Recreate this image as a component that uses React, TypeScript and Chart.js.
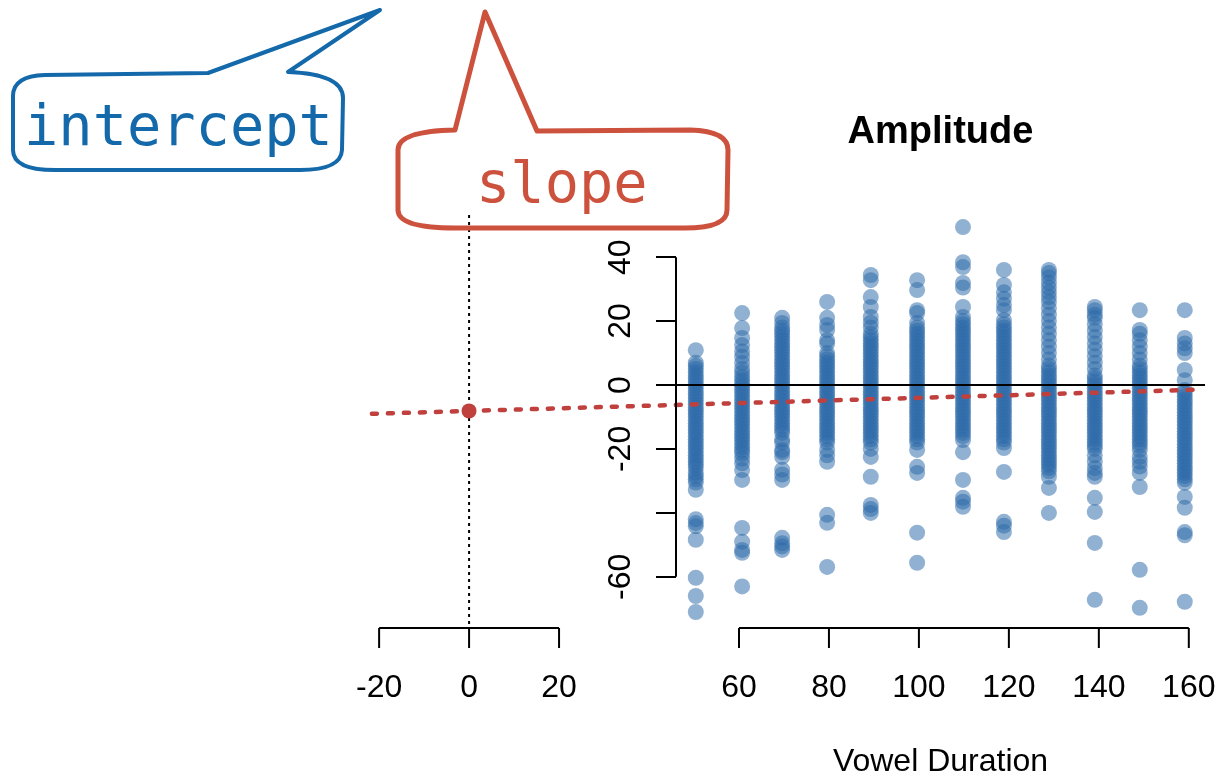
import React, { useEffect, useRef } from 'react';
import { Chart, registerables } from 'chart.js';

Chart.register(...registerables);

// ---------- data ----------
const xCols = [50.4, 60.7, 69.6, 79.6, 89.3, 99.6, 109.8, 118.9, 128.9, 139.1, 149.1, 159.1];

const col50 = [10.9, 7, 6, 5, 4, 3, 2, 1, 0, -1, -2, -3, -4, -5, -6, -7, -8, -9, -10, -11, -12, -13, -14, -15, -16, -17, -18, -19, -20, -21, -22, -23, -24, -25, -26, -27.5, -28.5, -29.5, -30.5, -32.8, -42, -43.2, -44.2, -48.4, -60.3, -66, -71];
const col60 = [22.5, 17.8, 14.7, 12.5, 10.5, 8.8, 6.9, 5, 3.8, 2.5, 1.5, 0.5, -0.5, -1.5, -2.5, -3.5, -4.5, -5.5, -6.5, -7.5, -8.5, -9.5, -10.5, -11.5, -12.5, -13.5, -14.5, -15.5, -16.5, -17.5, -18.5, -19.5, -20.5, -21.5, -23, -24.5, -26.6, -29.7, -44.7, -49, -51.6, -52.5, -63];
const col70 = [21, 19.4, 18, 17, 16, 15, 14, 13, 12, 11, 10, 9, 8, 7, 6, 5, 4, 3, 2, 1, 0, -1, -2, -3, -4, -5, -6, -7, -8, -9, -10, -11, -12, -13, -14, -15, -17, -18, -20.3, -21, -22.5, -26.5, -28, -29.7, -47.8, -49.5, -50.5, -51.6];
const col80 = [26, 21, 18.8, 17.2, 14, 13, 10, 9, 8, 7, 6, 5, 4, 3, 2, 1, 0, -1, -2, -3, -4, -5, -6, -7, -8, -9, -10, -11, -12, -13, -14, -15, -16, -17, -18, -20.3, -22, -24, -40.6, -43.1, -56.9];
const col90 = [34.4, 32.8, 27.5, 24.4, 21.3, 19.5, 18, 16, 15, 14, 13, 12, 11, 10, 9, 8, 7, 6, 5, 4, 3, 2, 1, 0, -1, -2, -3, -4, -5, -6, -7, -8, -9, -10, -11, -12, -13, -14, -15, -16, -17, -18, -20, -22.5, -28.7, -37.5, -38.8, -40];
const col100 = [32.8, 29.7, 23.4, 22.5, 19.4, 18, 17, 16, 15, 14, 13, 12, 11, 10, 9, 8, 7, 6, 5, 4, 3, 2, 1, 0, -1, -2, -3, -4, -5, -6, -7, -8, -9, -10, -11, -12, -13, -14, -15, -16, -17, -18, -20.3, -25.6, -27.5, -46.2, -55.6];
const col110 = [49.4, 38.4, 36.9, 31.9, 30.5, 24.4, 21.3, 20, 19, 18, 17, 16, 15, 14, 13, 12, 11, 10, 9, 8, 7, 6, 5, 4, 3, 2, 1, 0, -1, -2, -3, -4, -5, -6, -7, -8, -9, -10, -11, -12, -13, -14, -15, -16, -17.2, -21, -29.7, -35.3, -36.5, -38.1];
const col120 = [36, 31.3, 29, 27, 25, 23.4, 20.3, 19, 18, 17, 16, 15, 14, 13, 12, 11, 10, 9, 8, 7, 6, 5, 4, 3, 2, 1, 0, -1, -2, -3, -4, -5, -6, -7, -8, -9, -10, -11, -12, -13, -14, -15, -16, -17, -18, -19.7, -27.2, -42.8, -44, -46];
const col130 = [36, 35, 33.7, 32, 30.5, 29, 27.5, 26, 24, 22, 20, 18, 16, 14, 12, 10, 8, 6, 5, 4, 3, 2, 1, 0, -1, -2, -3, -4, -5, -6, -7, -8, -9, -10, -11, -12, -13, -14, -15, -16, -17, -18, -19, -20, -21, -22, -23, -24, -25, -26, -27, -28.7, -32.2, -40];
const col140 = [24.4, 23.4, 22, 21, 19, 17, 15, 13, 11, 9, 7, 5, 3, 2, 1, 0, -1, -2, -3, -4, -5, -6, -7, -8, -9, -10, -11, -12, -13, -14, -15, -16, -17, -18, -19, -20, -22, -24, -26, -27.5, -28.7, -35.3, -39.7, -49.4, -67.2];
const col150 = [23.4, 17.2, 16, 14, 12, 10, 8, 6, 5, 4, 3, 2, 1, 0, -1, -2, -3, -4, -5, -6, -7, -8, -9, -10, -11, -12, -13, -14, -15, -16, -17, -18, -19, -20.3, -22.5, -24, -25.5, -27.5, -31.9, -57.8, -69.7];
const col160 = [23.4, 14.7, 13, 11.5, 10, 4.7, 1.5, -1.6, -2.5, -3.5, -4.5, -5.5, -6.5, -7.5, -8.5, -9.5, -10.5, -11.5, -12.5, -13.5, -14.5, -15.5, -16.5, -17.5, -18.5, -19.5, -20.5, -21.5, -22.5, -23.5, -24.5, -25.5, -26.5, -27.5, -28.5, -29.5, -30.6, -35, -38.4, -46, -47, -67.8];
const amplitudeCols = [col50, col60, col70, col80, col90, col100, col110, col120, col130, col140, col150, col160];

// regression line, intercept point and reference lines
const fitLineX = [-21.6, 161.3];
const fitLineY = [-9.0, -1.5];
const interceptX = [0];
const interceptY = [-8.1];
const zeroRefX = [46.0, 163.6];
const zeroRefY = [0, 0];
const vRefX = [0, 0];
const vRefY = [53.2, -76.0];

// axes
const xRange = [46.0, 163.6];
const yRange = [-76.01, 57.87];
const xTicks = [60, 80, 100, 120, 140, 160, -20, 0, 20];
const xTickLabels = ['60', '80', '100', '120', '140', '160', '-20', '0', '20'];
const xAxisSegments = [[-20, 20], [60, 160]];
const yTicks = [40, 20, 0, -20, -40, -60];
const yTickLabels = ['40', '20', '0', '-20', '', '-60'];

const chartTitle = 'Amplitude';
const xTitle = 'Vowel Duration';
const interceptNote = 'intercept';
const slopeNote = 'slope';

const FONT = "'Liberation Sans', Arial, Helvetica, sans-serif";
const MONO = "'DejaVu Sans Mono', 'Liberation Mono', monospace";
const BLUE_PT = 'rgba(45,105,169,0.52)';
const RED = '#c0403e';
const NOTE_BLUE = '#1469aa';
const NOTE_RED = '#cd523e';

const toXY = (xs: number[], ys: number[]) => xs.map((x, i) => ({ x, y: ys[i] }));

const bgPlugin = {
  id: 'bg',
  beforeDraw(chart: any) {
    const { ctx, width, height } = chart;
    ctx.save();
    ctx.fillStyle = '#ffffff';
    ctx.fillRect(0, 0, width, height);
    ctx.restore();
  },
};

const axesPlugin = {
  id: 'rAxes',
  afterDraw(chart: any) {
    const { ctx, chartArea } = chart;
    const xs = chart.scales.x;
    const ys = chart.scales.y;
    ctx.save();
    ctx.strokeStyle = '#000';
    ctx.lineWidth = 2;
    ctx.lineCap = 'butt';
    // y axis line
    ctx.beginPath();
    ctx.moveTo(chartArea.left, ys.getPixelForValue(yTicks[0]));
    ctx.lineTo(chartArea.left, ys.getPixelForValue(yTicks[yTicks.length - 1]));
    ctx.stroke();
    // x axis segments + ticks
    const yb = chartArea.bottom;
    xAxisSegments.forEach(([a, b]) => {
      ctx.beginPath();
      ctx.moveTo(xs.getPixelForValue(a), yb);
      ctx.lineTo(xs.getPixelForValue(b), yb);
      ctx.stroke();
    });
    xTicks.forEach((v) => {
      const px = xs.getPixelForValue(v);
      ctx.beginPath();
      ctx.moveTo(px, yb);
      ctx.lineTo(px, yb + 20);
      ctx.stroke();
    });
    ctx.restore();
  },
};

const notesPlugin = {
  id: 'notes',
  afterDraw(chart: any) {
    const { ctx } = chart;
    ctx.save();
    ctx.lineJoin = 'round';
    ctx.lineCap = 'round';
    // intercept bubble
    ctx.strokeStyle = NOTE_BLUE;
    ctx.lineWidth = 4;
    ctx.beginPath();
    ctx.moveTo(45, 75);
    ctx.lineTo(208, 73);
    ctx.lineTo(380, 10);
    ctx.lineTo(288, 72);
    ctx.quadraticCurveTo(343, 74, 343, 98);
    ctx.lineTo(342, 150);
    ctx.quadraticCurveTo(341, 170, 300, 170);
    ctx.lineTo(55, 170);
    ctx.quadraticCurveTo(13, 170, 13, 150);
    ctx.lineTo(13, 96);
    ctx.quadraticCurveTo(13, 76, 45, 75);
    ctx.closePath();
    ctx.stroke();
    ctx.fillStyle = NOTE_BLUE;
    ctx.font = `57px ${MONO}`;
    ctx.textBaseline = 'alphabetic';
    ctx.textAlign = 'left';
    ctx.fillText(interceptNote, 24, 145);
    // slope bubble
    ctx.strokeStyle = NOTE_RED;
    ctx.lineWidth = 5;
    ctx.beginPath();
    ctx.moveTo(455, 130);
    ctx.lineTo(485, 12);
    ctx.lineTo(537, 131);
    ctx.lineTo(690, 130);
    ctx.quadraticCurveTo(728, 131, 728, 150);
    ctx.lineTo(727, 210);
    ctx.quadraticCurveTo(727, 228, 685, 228);
    ctx.lineTo(455, 228);
    ctx.quadraticCurveTo(398, 228, 398, 210);
    ctx.lineTo(398, 150);
    ctx.quadraticCurveTo(398, 131, 455, 130);
    ctx.closePath();
    ctx.stroke();
    ctx.fillStyle = NOTE_RED;
    ctx.fillText(slopeNote, 476, 202);
    ctx.restore();
  },
};

export default function App() {
  const ref = useRef<HTMLCanvasElement | null>(null);
  useEffect(() => {
    if (!ref.current) return;
    const points: { x: number; y: number }[] = [];
    amplitudeCols.forEach((col, i) => col.forEach((y) => points.push({ x: xCols[i], y })));
    // the intercept marker lies outside the chart area, so it is drawn as a very short round-capped stroke
    const interceptDot = [
      { x: interceptX[0] - 0.01, y: interceptY[0] },
      { x: interceptX[0] + 0.01, y: interceptY[0] },
    ];

    const chart = new Chart(ref.current, {
      type: 'scatter',
      data: {
        datasets: [
          {
            label: 'zero',
            data: toXY(zeroRefX, zeroRefY),
            showLine: true,
            borderColor: '#000',
            borderWidth: 2,
            pointRadius: 0,
            clip: false,
          } as any,
          {
            label: 'intercept',
            data: interceptDot,
            showLine: true,
            borderColor: RED,
            borderWidth: 15,
            borderCapStyle: 'round',
            pointRadius: 0,
            clip: false,
          } as any,
          {
            label: 'fit',
            data: toXY(fitLineX, fitLineY),
            showLine: true,
            borderColor: RED,
            borderWidth: 4.5,
            borderDash: [5, 11],
            borderCapStyle: 'round',
            pointRadius: 0,
            clip: false,
          } as any,
          {
            label: 'vref',
            data: toXY(vRefX, vRefY),
            showLine: true,
            borderColor: '#000',
            borderWidth: 2,
            borderDash: [3, 4],
            pointRadius: 0,
            clip: false,
          } as any,
          {
            label: 'Amplitude',
            data: points,
            backgroundColor: BLUE_PT,
            borderWidth: 0,
            pointRadius: 8,
            clip: false,
          } as any,
        ],
      },
      options: {
        animation: false,
        responsive: false,
        events: [],
        layout: { padding: { left: 400, right: 26, top: 0, bottom: 0 } },
        plugins: {
          legend: { display: false },
          tooltip: { enabled: false },
          title: {
            display: true,
            text: chartTitle,
            fullSize: false,
            color: '#000',
            font: { family: FONT, size: 38, weight: 'bold', lineHeight: 1.2 },
            padding: { top: 110.2, bottom: 44.2 },
          },
        },
        scales: {
          x: {
            type: 'linear',
            position: 'bottom',
            min: xRange[0],
            max: xRange[1],
            afterBuildTicks: (s: any) => {
              s.ticks = xTicks.map((v) => ({ value: v }));
            },
            afterFit: (s: any) => {
              s.height = 149;
              s.paddingLeft = 0;
              s.paddingRight = 0;
              s.paddingTop = 0;
              s.paddingBottom = 0;
            },
            border: { display: false },
            grid: { display: false, drawTicks: false, drawOnChartArea: false },
            ticks: {
              autoSkip: false,
              minRotation: 0,
              maxRotation: 0,
              padding: 40.8,
              color: '#000',
              font: { family: FONT, size: 32 },
              callback: (v: any) => {
                const i = xTicks.indexOf(Number(v));
                return i >= 0 ? xTickLabels[i] : '';
              },
            },
            title: {
              display: true,
              text: xTitle,
              color: '#000',
              font: { family: FONT, size: 32, lineHeight: 0.9 },
              padding: { top: 0, bottom: 0.6 },
            },
          },
          y: {
            type: 'linear',
            position: 'left',
            min: yRange[0],
            max: yRange[1],
            afterBuildTicks: (s: any) => {
              s.ticks = yTicks.map((v) => ({ value: v }));
            },
            afterFit: (s: any) => {
              s.width = 276;
              s.paddingLeft = 0;
              s.paddingRight = 0;
              s.paddingTop = 0;
              s.paddingBottom = 0;
            },
            border: { display: false },
            grid: { display: true, drawOnChartArea: false, drawTicks: true, tickLength: 20, color: '#000', lineWidth: 2 },
            ticks: {
              minRotation: 90,
              maxRotation: 90,
              crossAlign: 'center',
              padding: 12,
              color: '#000',
              font: { family: FONT, size: 32 },
              callback: (v: any) => {
                const i = yTicks.indexOf(Number(v));
                return i >= 0 ? yTickLabels[i] : '';
              },
            },
          },
        },
      } as any,
      plugins: [bgPlugin, axesPlugin, notesPlugin],
    });
    return () => chart.destroy();
  }, []);

  return (
    <div style={{ position: 'fixed', left: 0, top: 0, width: 1231, height: 777, background: '#fff' }}>
      <canvas ref={ref} width={1231} height={777} style={{ display: 'block', width: 1231, height: 777 }} />
    </div>
  );
}
